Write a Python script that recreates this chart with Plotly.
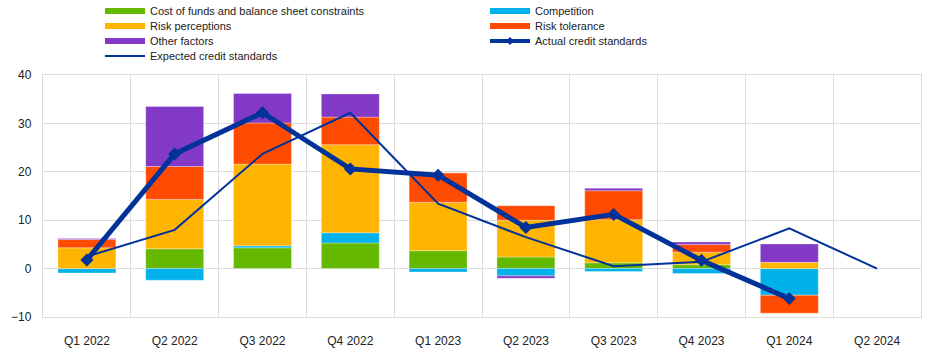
import plotly.graph_objects as go

categories = ["Q1 2022", "Q2 2022", "Q3 2022", "Q4 2022", "Q1 2023",
              "Q2 2023", "Q3 2023", "Q4 2023", "Q1 2024", "Q2 2024"]
cost_of_funds = [0.0, 4.1, 4.3, 5.3, 3.7, 2.4, 1.2, 0.8, 0.0, None]
competition = [-0.9, -2.4, 0.4, 2.1, -0.7, -1.5, -0.6, -1.0, -5.5, None]
risk_perceptions = [4.3, 10.2, 16.9, 18.2, 10.0, 7.6, 8.9, 2.6, 1.3, None]
risk_tolerance = [1.7, 6.8, 8.5, 5.7, 6.1, 3.0, 6.0, 1.6, -3.7, None]
other_factors = [0.2, 12.4, 6.1, 4.8, 0.0, -0.5, 0.5, 0.5, 3.8, None]
actual = [1.8, 23.7, 32.2, 20.6, 19.3, 8.5, 11.2, 1.7, -6.2, None]
expected = [2.5, 8.0, 23.7, 32.2, 13.4, 6.5, 0.5, 1.4, 8.3, 0.0]

bar_series = [
    ("Cost of funds and balance sheet constraints", cost_of_funds, "#65B800"),
    ("Competition", competition, "#00B1EA"),
    ("Risk perceptions", risk_perceptions, "#FFB400"),
    ("Risk tolerance", risk_tolerance, "#FF4B00"),
    ("Other factors", other_factors, "#8139C6"),
]
BLUE = "#003299"
W, H = 945, 354

fig = go.Figure()
for name, vals, col in bar_series:
    fig.add_trace(go.Bar(x=categories, y=vals, name=name, marker_color=col,
                         marker_line=dict(width=0.7, color="rgba(255,255,255,0.45)"),
                         showlegend=False))

fig.add_trace(go.Scatter(x=categories, y=expected, mode="lines",
                         line=dict(color=BLUE, width=2), showlegend=False))
fig.add_trace(go.Scatter(x=categories, y=actual, mode="lines+markers",
                         line=dict(color=BLUE, width=5),
                         marker=dict(symbol="diamond", size=10, color=BLUE),
                         showlegend=False))

# legend entries (one legend per entry for exact placement)
entries = [
    (bar_series[0][0], dict(color=bar_series[0][2], width=6), None, 0, 0),
    (bar_series[1][0], dict(color=bar_series[1][2], width=6), None, 1, 0),
    (bar_series[2][0], dict(color=bar_series[2][2], width=6), None, 0, 1),
    (bar_series[3][0], dict(color=bar_series[3][2], width=6), None, 1, 1),
    (bar_series[4][0], dict(color=bar_series[4][2], width=6), None, 0, 2),
    ("Actual credit standards", dict(color=BLUE, width=4),
     dict(symbol="diamond", size=6, color=BLUE), 1, 2),
    ("Expected credit standards", dict(color=BLUE, width=2), None, 0, 3),
]
col_x = [100, 485]
row_y = [11, 26, 41, 56]
legend_layouts = {}
for i, (name, line, marker, c, r) in enumerate(entries):
    key = "legend" if i == 0 else f"legend{i+1}"
    fig.add_trace(go.Scatter(x=[None], y=[None], name=name,
                             mode="lines+markers" if marker else "lines",
                             line=line, marker=marker, legend=key, showlegend=True))
    legend_layouts[key] = dict(
        xref="container", yref="container",
        x=col_x[c] / W, y=1 - row_y[r] / H,
        xanchor="left", yanchor="middle",
        bgcolor="rgba(0,0,0,0)", borderwidth=0,
        itemwidth=40,
        font=dict(family="Liberation Sans, Arial, sans-serif", size=11, color="#222222"),
    )

fig.update_layout(
    width=W, height=H,
    margin=dict(l=43, r=24, t=75, b=37, autoexpand=False),
    barmode="relative", bargap=0.34,
    plot_bgcolor="white", paper_bgcolor="white",
    font=dict(family="Liberation Sans, Arial, sans-serif", size=12, color="#222222"),
    **legend_layouts,
)
fig.update_xaxes(type="category", tickson="boundaries", ticks="",
                 showgrid=True, gridcolor="#dcdcdc", gridwidth=1.3,
                 showline=True, linecolor="#dcdcdc", linewidth=1.3, mirror=True,
                 ticklabelstandoff=12, range=[-0.5, 9.5], tickangle=0,
                 automargin=False)
fig.update_yaxes(range=[-10, 40], dtick=10, ticks="",
                 showgrid=True, gridcolor="#dcdcdc", gridwidth=1.3,
                 zeroline=True, zerolinecolor="#dcdcdc", zerolinewidth=1.3,
                 showline=True, linecolor="#dcdcdc", linewidth=1.3, mirror=True,
                 ticklabelstandoff=8, automargin=False)

fig.write_html("out.html")
